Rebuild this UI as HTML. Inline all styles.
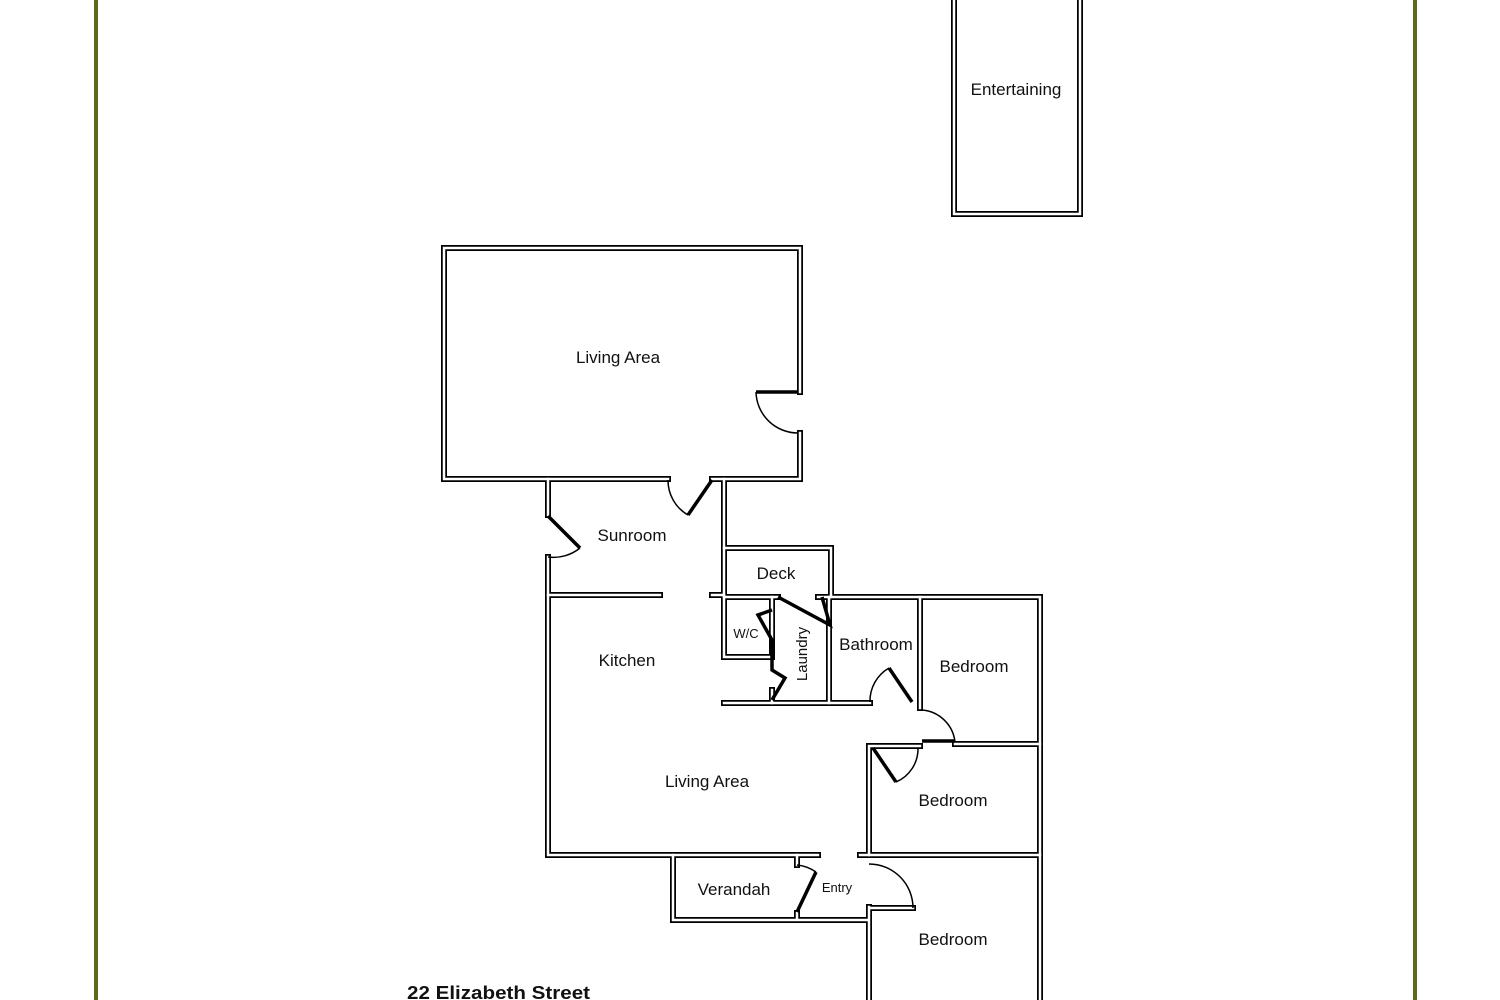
<!DOCTYPE html>
<html><head><style>
body{margin:0;background:#fff;}
svg{display:block;}
text{font-family:"Liberation Sans",sans-serif;font-size:17px;fill:#111;}
</style></head><body>
<svg width="1500" height="1000" viewBox="0 0 1500 1000">
<line x1="96" y1="0" x2="96" y2="1000" stroke="#5b6b1c" stroke-width="4"/>
<line x1="1415" y1="0" x2="1415" y2="1000" stroke="#5b6b1c" stroke-width="4"/>
<g fill="none" stroke-linecap="square">
<g stroke="#000" stroke-width="6">
<path d="M954,-5V214H1080V-5"/>
<path d="M444,248H800V392M800,433V479H712M668,479H444V248"/>
<path d="M548,479V515M548,557V855H818M860,855H869"/>
<path d="M724,479V657H772"/>
<path d="M548,595H660M712,595H724"/>
<path d="M724,548H831V597H1040V1000"/>
<path d="M724,597H778M818,597H831"/>
<path d="M772,597V655M772,690V703M829,597V703M920,597V708"/>
<path d="M724,703H870"/>
<path d="M955,744H1040M869,746H920M869,746V855M869,907V1000M869,908H913M869,855H1040"/>
<path d="M673,855V920H797M797,855V865M797,913V920H868"/>
</g>
<g stroke="#fff" stroke-width="2.5">
<path d="M954,-5V214H1080V-5"/>
<path d="M444,248H800V392M800,433V479H712M668,479H444V248"/>
<path d="M548,479V515M548,557V855H818M860,855H869"/>
<path d="M724,479V657H772"/>
<path d="M548,595H660M712,595H724"/>
<path d="M724,548H831V597H1040V1000"/>
<path d="M724,597H778M818,597H831"/>
<path d="M772,597V655M772,690V703M829,597V703M920,597V708"/>
<path d="M724,703H870"/>
<path d="M955,744H1040M869,746H920M869,746V855M869,907V1000M869,908H913M869,855H1040"/>
<path d="M673,855V920H797M797,855V865M797,913V920H868"/>
</g>
</g>
<g fill="none" stroke="#000" stroke-width="1.5">
<path d="M756,392A42,42 0 0 0 798,433"/>
<path d="M668,480A40,40 0 0 0 688,515"/>
<path d="M548,557A42,42 0 0 0 580,548"/>
<path d="M870,702A38,38 0 0 1 889,668"/>
<path d="M955,742A36,36 0 0 0 922,710"/>
<path d="M896,782A36,36 0 0 0 918,748"/>
<path d="M913,908A44,44 0 0 0 869,864"/>
<path d="M797,865A40,40 0 0 1 816,872"/>
</g>
<g stroke="#000" stroke-width="3.5" fill="none">
<path d="M756,392H798"/>
<path d="M712,480L688,515"/>
<path d="M548,516L580,548"/>
<path d="M778,597L830,625L822,597"/>
<path d="M772,610L758,615L772,640L772,670L785,678L772,700"/>
<path d="M912,702L889,668"/>
<path d="M922,741H955"/>
<path d="M873,748L896,782"/>
<path d="M816,872L797,912"/>
</g>
<text x="1016" y="95" text-anchor="middle">Entertaining</text>
<text x="618" y="363" text-anchor="middle">Living Area</text>
<text x="632" y="541" text-anchor="middle">Sunroom</text>
<text x="776" y="579" text-anchor="middle">Deck</text>
<text x="746" y="638" text-anchor="middle" style="font-size:13px">W/C</text>
<text x="807" y="654" text-anchor="middle" transform="rotate(-90 807 654)" style="font-size:15px">Laundry</text>
<text x="876" y="650" text-anchor="middle">Bathroom</text>
<text x="974" y="672" text-anchor="middle">Bedroom</text>
<text x="627" y="666" text-anchor="middle">Kitchen</text>
<text x="707" y="787" text-anchor="middle">Living Area</text>
<text x="953" y="806" text-anchor="middle">Bedroom</text>
<text x="734" y="895" text-anchor="middle">Verandah</text>
<text x="837" y="892" text-anchor="middle" style="font-size:13px">Entry</text>
<text x="953" y="945" text-anchor="middle">Bedroom</text>
<text x="407" y="999" textLength="183" lengthAdjust="spacingAndGlyphs" style="font-weight:bold;font-size:18px">22 Elizabeth Street</text>
</svg>
</body></html>
